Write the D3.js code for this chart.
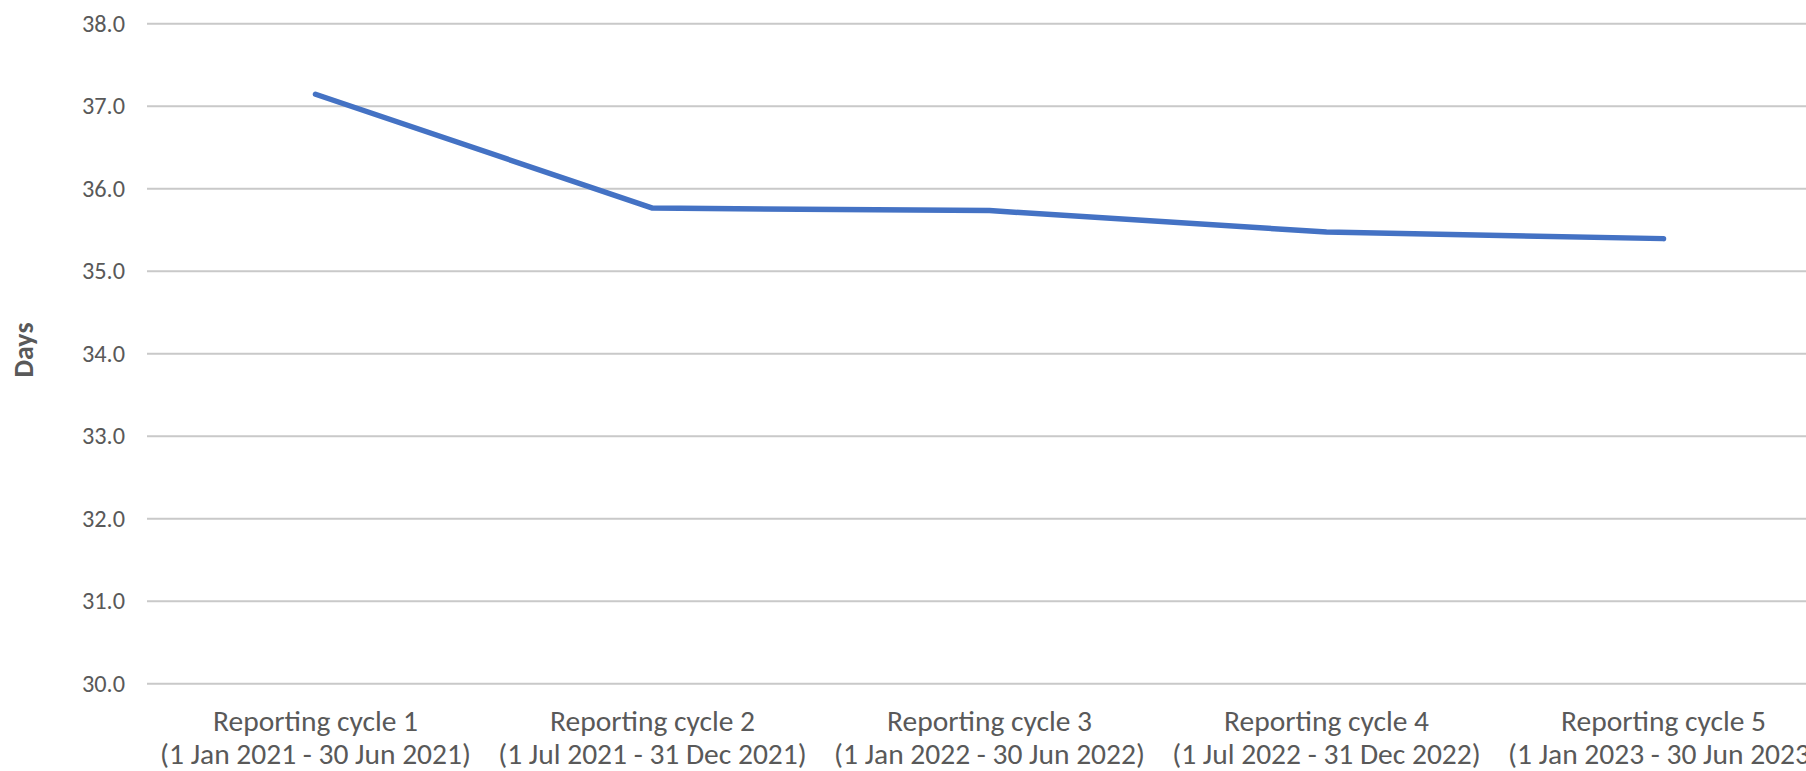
<!DOCTYPE html>
<html>
<head>
<meta charset="utf-8">
<script src="https://cdn.jsdelivr.net/npm/d3@7"></script>
<style>
  html, body { margin: 0; padding: 0; background: #ffffff; }
  svg { display: block; }
</style>
</head>
<body>
<svg id="chart" width="1806" height="771"></svg>
<script>
const categories = [
  "Reporting cycle 1", "Reporting cycle 2", "Reporting cycle 3",
  "Reporting cycle 4", "Reporting cycle 5"
];
const periods = [
  "(1 Jan 2021 - 30 Jun 2021)", "(1 Jul 2021 - 31 Dec 2021)",
  "(1 Jan 2022 - 30 Jun 2022)", "(1 Jul 2022 - 31 Dec 2022)",
  "(1 Jan 2023 - 30 Jun 2023)"
];
const values = [37.14, 35.76, 35.73, 35.47, 35.39];
const yTicks = [30, 31, 32, 33, 34, 35, 36, 37, 38];
const yTitle = "Days";

(function () {
const mLeft = 147, mTop = 23.3, mBottom = 683.3;
const bandW = 337;
const mRight = mLeft + bandW * categories.length;

const svg = d3.select("#chart");
const font = "Calibri, Carlito, Lato, sans-serif";
const textColor = "#595959";

const x = d3.scaleBand().domain(categories).range([mLeft, mRight]).padding(0);
const y = d3.scaleLinear().domain([30, 38]).range([mBottom, mTop]);

// gridlines + tick labels
const yAxis = d3.axisLeft(y).tickValues(yTicks).tickSize(-(mRight - mLeft))
  .tickFormat(d3.format(".1f")).tickPadding(22);
const gy = svg.append("g").attr("transform", `translate(${mLeft},0)`).call(yAxis);
gy.select(".domain").remove();
gy.selectAll(".tick line").attr("stroke", "#c9c9c9").attr("stroke-width", 2);
gy.selectAll(".tick text")
  .attr("fill", textColor)
  .style("font-family", font)
  .style("font-size", "24.3px");

// x labels
const xl = svg.append("g");
categories.forEach((c, i) => {
  const cx = x(c) + x.bandwidth() / 2;
  const t = xl.append("text")
    .attr("text-anchor", "middle")
    .attr("fill", textColor)
    .style("font-family", font)
    .style("font-size", "29.5px");
  t.append("tspan").attr("x", cx).attr("y", 731).text(c);
  t.append("tspan").attr("x", cx).attr("y", 764).text(periods[i]);
});

// y title
svg.append("text")
  .attr("transform", `translate(33,350) rotate(-90)`)
  .attr("text-anchor", "middle")
  .attr("fill", textColor)
  .style("font-family", font)
  .style("font-size", "28px")
  .style("font-weight", "bold")
  .text(yTitle);

// line
const line = d3.line()
  .x((d, i) => x(categories[i]) + x.bandwidth() / 2)
  .y(d => y(d));
svg.append("path")
  .datum(values)
  .attr("d", line)
  .attr("fill", "none")
  .attr("stroke", "#4472C4")
  .attr("stroke-width", 5.5)
  .attr("stroke-linecap", "round")
  .attr("stroke-linejoin", "round");
})();
</script>
</body>
</html>
